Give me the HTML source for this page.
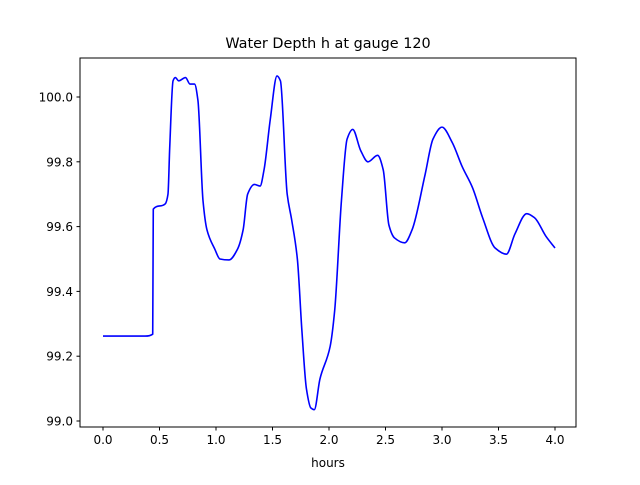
<!DOCTYPE html>
<html><head><meta charset="utf-8"><style>
body{margin:0;background:#fff;}
svg text{font-family:"DejaVu Sans","Liberation Sans",sans-serif;}
</style></head><body>
<svg id="chart" width="640" height="480" xmlns="http://www.w3.org/2000/svg">
<rect width="640" height="480" fill="#fff"/>
<text x="328" y="48" font-size="14.4" text-anchor="middle">Water Depth h at gauge 120</text>
<text x="328" y="467" font-size="12" text-anchor="middle">hours</text>
<g id="axes"></g>
</svg>
<script>
const times=[0,0.372,0.44,0.445,0.55,0.575,0.59,0.62,0.64,0.67,0.73,0.77,0.81,0.84,0.885,0.92,0.99,1.035,1.115,1.19,1.24,1.28,1.34,1.39,1.425,1.48,1.54,1.57,1.63,1.67,1.72,1.76,1.80,1.84,1.87,1.92,2.01,2.05,2.11,2.16,2.21,2.28,2.345,2.43,2.48,2.53,2.58,2.67,2.735,2.85,2.92,3.00,3.09,3.18,3.27,3.36,3.47,3.57,3.645,3.75,3.82,3.92,4.0];
const depths=[99.262,99.262,99.268,99.654,99.67,99.70,99.84,100.05,100.06,100.05,100.06,100.04,100.04,99.99,99.68,99.59,99.53,99.50,99.497,99.53,99.59,99.70,99.73,99.725,99.775,99.93,100.065,100.05,99.70,99.62,99.50,99.28,99.10,99.04,99.035,99.13,99.23,99.34,99.68,99.87,99.90,99.835,99.80,99.82,99.775,99.605,99.565,99.55,99.59,99.76,99.87,99.907,99.86,99.784,99.72,99.627,99.534,99.515,99.577,99.64,99.627,99.57,99.534];
const xTicks=[0,0.5,1,1.5,2,2.5,3,3.5,4];
const yTicks=[99.0,99.2,99.4,99.6,99.8,100.0];
const L=80,R=576,T=58,B=427;
const xs=t=>103+113*t;
const ys=h=>97+(100-h)*324;
const NS="http://www.w3.org/2000/svg";
const g=document.getElementById('axes');
function mk(tag,attrs){const e=document.createElementNS(NS,tag);for(const k in attrs)e.setAttribute(k,attrs[k]);g.appendChild(e);return e;}
function monoPath(X,Y){
  const n=X.length,d=[],m=new Array(n);
  for(let i=0;i<n-1;i++)d.push((Y[i+1]-Y[i])/(X[i+1]-X[i]));
  m[0]=d[0];m[n-1]=d[n-2];
  for(let i=1;i<n-1;i++){m[i]=(d[i-1]*d[i]<=0)?0:3*(X[i+1]-X[i-1])/((2*X[i+1]-X[i]-X[i-1])/d[i-1]+(X[i+1]+X[i]-2*X[i-1])/d[i]);}
  let p='M'+X[0].toFixed(2)+','+Y[0].toFixed(2);
  for(let i=0;i<n-1;i++){const h=(X[i+1]-X[i])/3;
    p+=' C'+(X[i]+h).toFixed(2)+','+(Y[i]+m[i]*h).toFixed(2)+' '+(X[i+1]-h).toFixed(2)+','+(Y[i+1]-m[i+1]*h).toFixed(2)+' '+X[i+1].toFixed(2)+','+Y[i+1].toFixed(2);}
  return p;
}
const line=mk('path',{d:monoPath(times.map(xs),depths.map(ys)),fill:'none',stroke:'#0000ff','stroke-width':1.6,'stroke-linejoin':'round'});


const frame=mk('rect',{x:L,y:T,width:R-L,height:B-T,fill:'none',stroke:'#000','stroke-width':1});


xTicks.forEach(v=>{const x=xs(v);
const tk=mk('line',{x1:x,x2:x,y1:B,y2:B+3.5,stroke:'#000'});


const tx=mk('text',{x:x,y:B+17,'font-size':12,'text-anchor':'middle'});tx.textContent=v.toFixed(1);

});
yTicks.forEach(v=>{const y=ys(v);
const tk=mk('line',{x1:L-3.5,x2:L,y1:y,y2:y,stroke:'#000'});


const tx=mk('text',{x:L-7,y:y+4.5,'font-size':12,'text-anchor':'end'});tx.textContent=v.toFixed(1);

});
</script>
</body></html>
